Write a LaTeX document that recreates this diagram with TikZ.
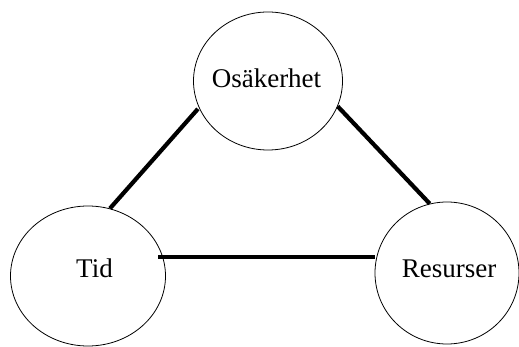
\documentclass[tikz,border=0pt]{standalone}
\usepackage{fontspec}
\setmainfont{Liberation Serif}
\usetikzlibrary{shapes.geometric}
\tikzset{
  bubble/.style={draw, ellipse, line width=0.8pt, inner sep=0pt},
  word/.style={anchor=base, inner sep=0pt, font=\fontsize{27}{32}\selectfont},
  link/.style={line width=4.2pt}
}
\begin{document}
\begin{tikzpicture}[x=1pt,y=-1pt]
\useasboundingbox (0,0) rectangle (519,347);
\node[bubble, minimum width=149pt, minimum height=138pt] (osa) at (268,81) {};
\node[bubble, minimum width=155pt, minimum height=140pt] (tid) at (88,276) {};
\node[bubble, minimum width=144pt, minimum height=142pt] (res) at (447,273) {};
\node[word] (osatext) at (266.5,88) {Osäkerhet};
\node[word] (tidtext) at (94.5,277) {Tid};
\node[word] (restext) at (449,277) {Resurser};
\draw[link] (tid.72) -- ([xshift=-2pt,yshift=1pt]osa.203);
\draw[link] (osa.340) -- (res.104);
\draw[link] ([xshift=-5pt]tid.14) -- (res.west |- tid.14);
\end{tikzpicture}
\end{document}
